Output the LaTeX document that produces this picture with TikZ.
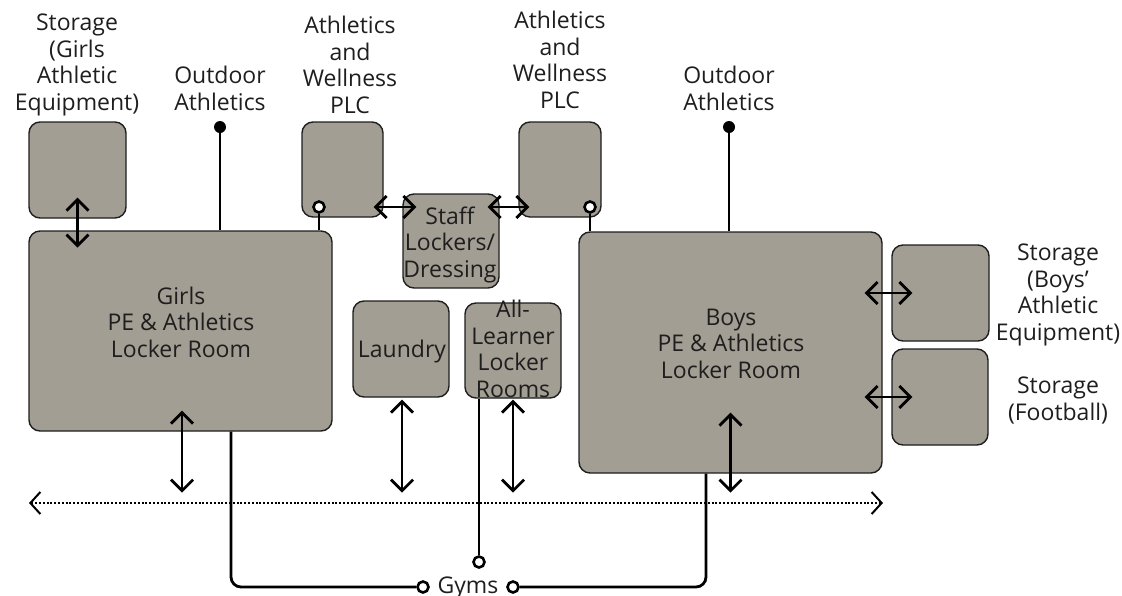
\documentclass[tikz,border=0pt]{standalone}
\usepackage{fontspec}
\setmainfont{Open Sans}
\usetikzlibrary{arrows.meta,calc}
\definecolor{boxfill}{RGB}{163,158,147}
\definecolor{ink}{RGB}{30,30,30}
\begin{document}
\begin{tikzpicture}[x=1pt,y=-1pt,
  room/.style={draw=ink, fill=boxfill, rounded corners=11pt, line width=1.4pt, inner sep=0pt},
  lbl/.style={align=center, font=\fontsize{23}{26.5}\selectfont, text=ink, inner sep=0pt, anchor=base},
  dbl/.style={line width=2.8pt, draw=black, {Straight Barb[length=11pt,width=22pt,line width=2.8pt]}-{Straight Barb[length=11pt,width=22pt,line width=2.8pt]}},
  conn/.style={line width=2.8pt, draw=black},
  port/.style={circle, draw=black, fill=white, line width=2.6pt, minimum size=11pt, inner sep=0pt},
  dotport/.style={circle, fill=black, minimum size=12pt, inner sep=0pt},
  corridor/.style={line width=2pt, dash pattern=on 2pt off 1.8pt, {Straight Barb[length=10pt,width=22pt,line width=2pt]}-{Straight Barb[length=10pt,width=22pt,line width=2pt]}}
]
\useasboundingbox (0,0) rectangle (1122,595);

% rooms
\node[room, minimum width=97pt, minimum height=96pt] (sg) at (77.5,170) {};
\node[room, minimum width=303pt, minimum height=200pt] (girls) at (180.5,331) {};
\node[room, minimum width=81pt, minimum height=95pt] (plcL) at (342.5,169.5) {};
\node[room, minimum width=96pt, minimum height=94pt] (staff) at (451,241) {};
\node[room, minimum width=82pt, minimum height=95pt] (plcR) at (560,169.5) {};
\node[room, minimum width=303pt, minimum height=241pt] (boys) at (730.5,352.5) {};
\node[room, minimum width=97pt, minimum height=96pt] (sb) at (940.5,293) {};
\node[room, minimum width=96pt, minimum height=96pt] (sf) at (940,397) {};
\node[room, minimum width=96pt, minimum height=96pt] (laundry) at (401,349) {};
\node[room, minimum width=96pt, minimum height=95pt] (all) at (513,350.5) {};

% labels (anchor base = baseline of last line)
\node[lbl] (sgL) at (77,110) {Storage\\(Girls\\Athletic\\Equipment)};
\node[lbl] (odLL) at (220,110) {Outdoor\\Athletics};
\node[lbl] (plcLL) at (350,113) {Athletics\\and\\Wellness\\PLC};
\node[lbl] (plcRL) at (560,108) {Athletics\\and\\Wellness\\PLC};
\node[lbl] (odRL) at (729,110) {Outdoor\\Athletics};
\node[lbl] (girlsL) at (181,357) {Girls\\PE \& Athletics\\Locker Room};
\node[lbl] (staffL) at (450,277) {Staff\\Lockers/\\Dressing};
\node[lbl] (laundryL) at (402,357) {Laundry};
\node[lbl] (allL) at (513,397) {All-\\Learner\\Locker\\Rooms};
\node[lbl] (boysL) at (731,378) {Boys\\PE \& Athletics\\Locker Room};
\node[lbl] (sbL) at (1058,340) {Storage\\(Boys’\\Athletic\\Equipment)};
\node[lbl] (sfL) at (1058,420) {Storage\\(Football)};
\node[lbl] (gymsL) at (468,593) {Gyms};

% ports
\node[dotport] (odL) at (220,127) {};
\node[dotport] (odR) at (729,127) {};
\node[port] (pL) at (319,207) {};
\node[port] (pR) at (590,207) {};
\node[port] (pAll) at (479,562) {};
\node[port] (gL) at (423,587) {};
\node[port] (gR) at (513,587) {};

% vertical stubs
\draw[conn] (odL) -- (odL |- girls.north);
\draw[conn] (odR) -- (odR |- boys.north);
\draw[conn] (pL) -- (pL |- girls.north);
\draw[conn] (pR) -- (pR |- boys.north);
\draw[conn] (pAll |- all.south) -- (pAll);

% gym connections
\coordinate (gcL) at (231,587);
\coordinate (gcR) at (706,587);
\draw[conn, rounded corners=10pt] (gcL |- girls.south) -- (gcL) -- (gL);
\draw[conn, rounded corners=10pt] (gcR |- boys.south) -- (gcR) -- (gR);

% double arrows
\draw[dbl] ([yshift=21pt]sg.south) -- ([yshift=-29pt]sg.south);
\draw[dbl] ([xshift=-10pt,yshift=-37.5pt]plcL.east) -- ([xshift=14pt,yshift=34pt]staff.west);
\draw[dbl] ([xshift=-12pt,yshift=34pt]staff.east) -- ([xshift=11pt,yshift=-37.5pt]plcR.west);
\draw[dbl] ([xshift=-18pt]boys.east |- sb.west) -- ([xshift=21pt]sb.west);
\draw[dbl] ([xshift=-18pt]boys.east |- sf.west) -- ([xshift=21pt]sf.west);
\draw[dbl] ([xshift=1.5pt,yshift=21pt]girls.south) -- ([xshift=1.5pt,yshift=-61pt]girls.south);
\draw[dbl] ([xshift=1pt,yshift=-2pt]laundry.south) -- ([xshift=1pt,yshift=-95pt]laundry.south);
\draw[dbl] ([yshift=-1pt]all.south) -- ([yshift=-94pt]all.south);
\draw[dbl] ([yshift=61pt]boys.south) -- ([yshift=-19pt]boys.south);

% corridor
\coordinate (cL) at (29,503);
\coordinate (cR) at (883,503);
\draw[corridor] (cL) -- (cR);
\end{tikzpicture}
\end{document}
